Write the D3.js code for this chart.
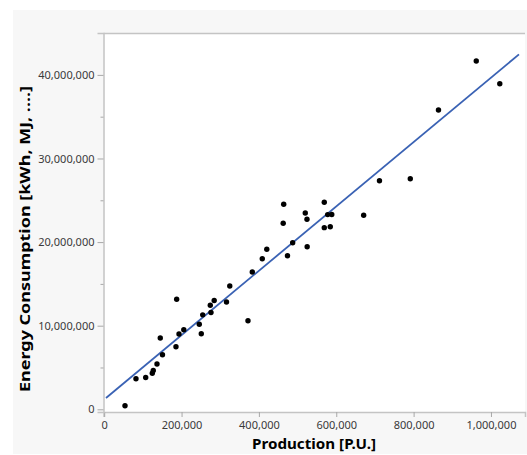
<!DOCTYPE html>
<html>
<head>
<meta charset="utf-8">
<script src="https://cdn.jsdelivr.net/npm/d3@7"></script>
<style>
  html, body { margin: 0; padding: 0; background: #ffffff; }
  svg { display: block; }
</style>
</head>
<body>
<svg id="chart" width="527" height="455"></svg>
<script>
// Production (P.U.) vs energy consumption per site
const production = [
  53800, 82200, 107300, 124400, 126900, 136500, 145000, 150700, 185600, 187400,
  193400, 205800, 245900, 251000, 254700, 274300, 276100, 284400, 316200, 324700,
  371800, 382900, 408700, 420400, 462800, 464100, 473900, 487300, 519900, 524300,
  524800, 569000, 569000, 577800, 588400, 584500, 670900, 711700, 791400, 864300,
  962000, 1022800
];
const energy = [
  430000, 3660000, 3800000, 4320000, 4650000, 5420000, 8530000, 6530000, 7490000, 13160000,
  9010000, 9510000, 10180000, 9040000, 11300000, 12440000, 11580000, 13010000, 12830000, 14750000,
  10600000, 16420000, 18000000, 19140000, 22260000, 24520000, 18370000, 19930000, 23480000, 22740000,
  19440000, 24770000, 21730000, 23290000, 23300000, 21840000, 23210000, 27330000, 27580000, 35800000,
  41660000, 38940000
];

// Linear fit: energy = intercept + slope * production
const fitIntercept = 1170000;
const fitSlope = 38.5;
const fitRange = [4650, 1072400];

const xTicks = [0, 200000, 400000, 600000, 800000, 1000000];
const yTicks = [0, 10000000, 20000000, 30000000, 40000000];
const yMinorTicks = [5000000, 15000000, 25000000, 35000000];

const xTitle = "Production [P.U.]";
const yTitle = "Energy Consumption [kWh, MJ, ....]";

const svg = d3.select("#chart");
const fmt = d3.format(",");
const fontStack = "'Noto Sans', 'Open Sans', sans-serif";

const plot = { left: 103.5, right: 525, top: 33, bottom: 412 };

const x = d3.scaleLinear().domain([-1800, 1088000]).range([plot.left, plot.right]);
const y = d3.scaleLinear().domain([-323000, 45010000]).range([plot.bottom, plot.top]);

// panel background
svg.append("rect")
  .attr("x", 13).attr("y", 10).attr("width", 514).attr("height", 444)
  .attr("fill", "#f7f7f7");

// plot area
svg.append("rect")
  .attr("x", plot.left).attr("y", plot.top)
  .attr("width", plot.right - plot.left).attr("height", plot.bottom - plot.top)
  .attr("fill", "#ffffff");

const frame = "#c4c4c4";
svg.append("line")
  .attr("x1", plot.left).attr("x2", plot.right)
  .attr("y1", plot.top + 0.5).attr("y2", plot.top + 0.5)
  .attr("stroke", frame).attr("stroke-width", 1.5);

// axes
const xAxis = svg.append("g")
  .attr("transform", `translate(0,${plot.bottom})`)
  .call(d3.axisBottom(x).tickValues(xTicks).tickFormat(fmt).tickSize(5).tickPadding(4));

const yAxis = svg.append("g")
  .attr("transform", `translate(${plot.left},0)`)
  .call(d3.axisLeft(y).tickValues(yTicks).tickFormat(fmt).tickSize(6).tickPadding(3));

const yMinor = svg.append("g")
  .attr("transform", `translate(${plot.left},0)`)
  .call(d3.axisLeft(y).tickValues(yMinorTicks).tickFormat("").tickSize(3));
yMinor.select(".domain").remove();

[xAxis, yAxis, yMinor].forEach(g => {
  g.select(".domain").attr("stroke", frame).attr("stroke-width", 1.5);
  g.selectAll(".tick line").attr("stroke", "#a8a8a8");
  g.selectAll(".tick text")
    .attr("fill", "#3a3a3a")
    .style("font-family", fontStack)
    .style("font-size", "11px");
});

// fitted line
const fitLine = d3.line()
  .x(d => x(d))
  .y(d => y(fitIntercept + fitSlope * d));
svg.append("path")
  .datum(fitRange)
  .attr("d", fitLine)
  .attr("fill", "none")
  .attr("stroke", "#3a62b4")
  .attr("stroke-width", 1.8);

// observations
svg.append("g")
  .selectAll("circle")
  .data(production.map((p, i) => ({ p, e: energy[i] })))
  .join("circle")
  .attr("cx", d => x(d.p))
  .attr("cy", d => y(d.e))
  .attr("r", 2.7)
  .attr("fill", "#000000");

// axis titles
svg.append("text")
  .attr("x", 314).attr("y", 449)
  .attr("text-anchor", "middle")
  .attr("textLength", 124)
  .attr("lengthAdjust", "spacingAndGlyphs")
  .style("font-family", fontStack)
  .style("font-size", "13.5px")
  .style("font-weight", "bold")
  .attr("fill", "#000000")
  .text(xTitle);

svg.append("text")
  .attr("transform", "translate(29.5,239) rotate(-90)")
  .attr("text-anchor", "middle")
  .attr("textLength", 306)
  .attr("lengthAdjust", "spacingAndGlyphs")
  .style("font-family", fontStack)
  .style("font-size", "13.5px")
  .style("font-weight", "bold")
  .attr("fill", "#000000")
  .text(yTitle);
</script>
</body>
</html>
